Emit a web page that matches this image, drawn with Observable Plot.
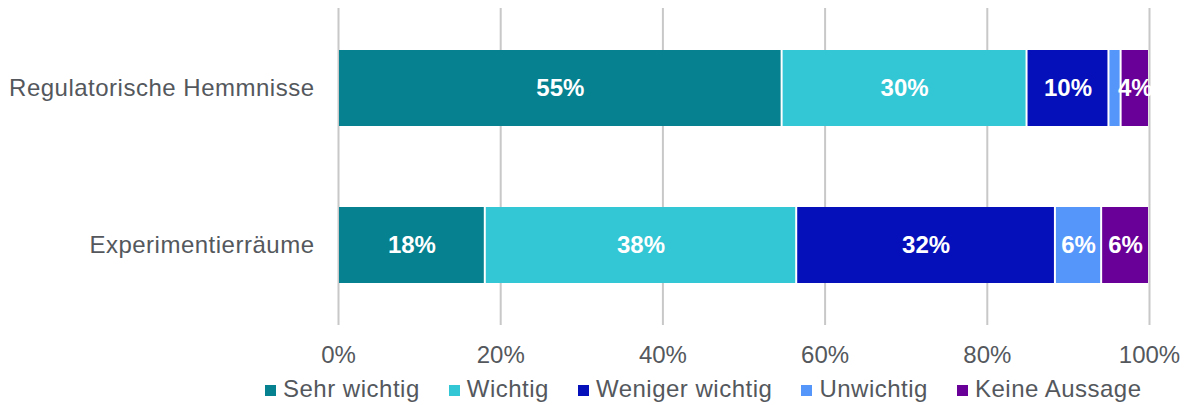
<!DOCTYPE html>
<html>
<head>
<meta charset="utf-8">
<script src="https://cdn.jsdelivr.net/npm/d3@7"></script>
<script src="https://cdn.jsdelivr.net/npm/@observablehq/plot@0.6"></script>
<style>
  html, body { margin: 0; padding: 0; background: #fff; }
  body { width: 1190px; height: 405px; overflow: hidden; font-family: "Liberation Sans", Arial, sans-serif; }
  #legend { display: flex; height: 35px; box-sizing: border-box; padding-left: 265px; padding-top: 7px; font-size: 24px; line-height: 1; color: #54585d; letter-spacing: 0.5px; }
  #legend .item { margin-right: 29px; white-space: nowrap; }
  #legend .sw { display: inline-block; width: 11px; height: 11px; margin-right: 7px; vertical-align: baseline; position: relative; top: -1px; }
  #chart g[aria-label="y-axis tick label"] text { letter-spacing: 0.5px; }
</style>
</head>
<body>
<div id="chart"></div>
<div id="legend"></div>
<script>
const categories = ["Regulatorische Hemmnisse", "Experimentierräume"];
const series = ["Sehr wichtig", "Wichtig", "Weniger wichtig", "Unwichtig", "Keine Aussage"];
const colors = ["#05818f", "#33c6d5", "#0510bb", "#5596fb", "#690098"];
const regulatorischeValues = [54.7, 30.2, 10.1, 1.5, 3.5];
const experimentierValues = [18.1, 38.4, 31.9, 5.7, 5.9];
const xTicks = [0, 20, 40, 60, 80, 100];

const valuesByCategory = [regulatorischeValues, experimentierValues];
const data = [];
categories.forEach((c, i) => {
  series.forEach((s, j) => data.push({category: c, series: s, value: valuesByCategory[i][j]}));
});

const textColor = "#54585d";

const chart = Plot.plot({
  width: 1190,
  height: 370,
  marginLeft: 338,
  marginRight: 41,
  marginTop: 8,
  marginBottom: 45,
  style: {fontFamily: "'Liberation Sans', Arial, sans-serif", fontSize: "24px", color: textColor, background: "#fff"},
  x: {domain: [0, 100], ticks: xTicks, tickFormat: d => d + "%", label: null},
  y: {domain: categories, paddingInner: 0.513, paddingOuter: 0.26, label: null},
  color: {domain: series, range: colors},
  marks: [
    Plot.ruleX(xTicks, {stroke: "#c8c8c8", strokeWidth: 2}),
    Plot.barX(data, Plot.stackX({x: "value", y: "category", fill: "series", z: "series", insetLeft: 1, insetRight: 1})),
    Plot.text(data, Plot.stackX({
      x: "value", y: "category", z: "series",
      text: d => d.value >= 3 ? Math.round(d.value) + "%" : "",
      fill: "white", fontWeight: "bold", fontSize: 24
    })),
    Plot.axisX({ticks: xTicks, tickFormat: d => d + "%", tickSize: 0, tickPadding: 20, fontSize: 24, fill: textColor, label: null}),
    Plot.axisY({tickSize: 0, tickPadding: 24, fontSize: 24, fill: textColor, label: null})
  ]
});
document.getElementById("chart").appendChild(chart);

const legend = document.getElementById("legend");
series.forEach((s, i) => {
  const item = document.createElement("span");
  item.className = "item";
  const sw = document.createElement("span");
  sw.className = "sw";
  sw.style.background = colors[i];
  item.appendChild(sw);
  item.appendChild(document.createTextNode(s));
  legend.appendChild(item);
});
</script>
</body>
</html>
